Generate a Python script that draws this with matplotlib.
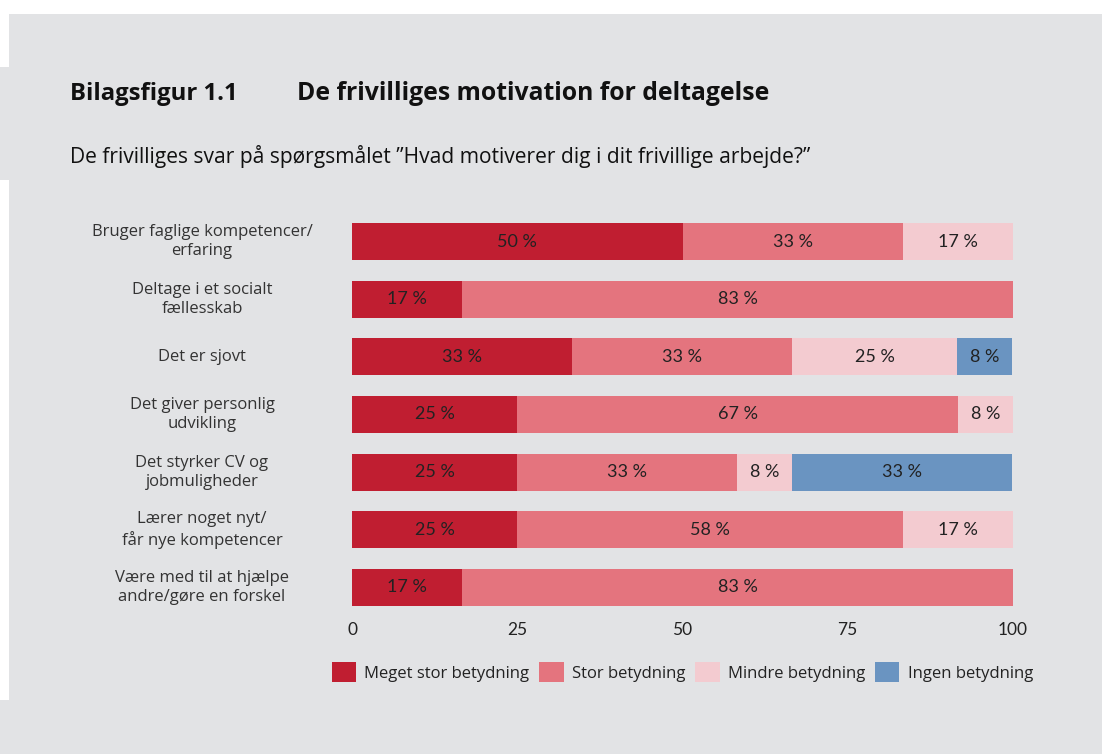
import matplotlib.pyplot as plt
from matplotlib.patches import Rectangle, Patch
from matplotlib.transforms import blended_transform_factory
import numpy as np

# data (andel af svar i procent)
categories = [
    "Bruger faglige kompetencer/\nerfaring",
    "Deltage i et socialt\nfællesskab",
    "Det er sjovt",
    "Det giver personlig\nudvikling",
    "Det styrker CV og\njobmuligheder",
    "Lærer noget nyt/\nfår nye kompetencer",
    "Være med til at hjælpe\nandre/gøre en forskel",
]
series_names = ["Meget stor betydning", "Stor betydning", "Mindre betydning", "Ingen betydning"]
meget_stor = [50.0, 16.7, 33.3, 25.0, 25.0, 25.0, 16.7]
stor = [33.3, 83.3, 33.3, 66.7, 33.3, 58.3, 83.3]
mindre = [16.7, 0.0, 25.0, 8.3, 8.3, 16.7, 0.0]
ingen = [0.0, 0.0, 8.3, 0.0, 33.3, 0.0, 0.0]
x_ticks = [0, 25, 50, 75, 100]

colors = ["#c01e31", "#e4747e", "#f3cbd0", "#6a94c1"]
bg = "#e2e3e5"
txt = "#222222"
narrow = ['Lato', 'DejaVu Sans']

plt.rcParams['font.family'] = ['Open Sans', 'DejaVu Sans']

W, H = 1102, 754
fig = plt.figure(figsize=(W / 100, H / 100), dpi=100, facecolor="white")

# grå baggrund
def px_rect(x0, y0, x1, y1):
    fig.patches.append(Rectangle((x0 / W, 1 - y1 / H), (x1 - x0) / W, (y1 - y0) / H,
                                 transform=fig.transFigure, facecolor=bg, edgecolor="none", zorder=-10))
px_rect(9, 14, W, H)
px_rect(0, 67, 9, 180)
px_rect(0, 700, 9, H)

# akse
left, right = 352, 1013
top, bottom = 212.7, 616.3
ax = fig.add_axes([left / W, 1 - bottom / H, (right - left) / W, (bottom - top) / H])
ax.set_facecolor("none")
ax.set_zorder(5)

y = np.arange(len(categories))
data = [meget_stor, stor, mindre, ingen]
start = np.zeros(len(categories))
for vals, col in zip(data, colors):
    vals = np.array(vals)
    ax.barh(y, vals, left=start, height=0.645, color=col, edgecolor="none")
    for yi, s, v in zip(y, start, vals):
        if v > 0:
            ax.text(s + v / 2, yi, f"{v:.0f} %", ha="center", va="center",
                    fontsize=13, color=txt, family=narrow)
    start += vals

ax.set_xlim(0, 100)
ax.set_ylim(len(categories) - 0.5, -0.5)
ax.set_xticks(x_ticks)
ax.set_xticklabels([str(t) for t in x_ticks], fontsize=12.5, color=txt, family=narrow)
ax.tick_params(axis="x", length=0, pad=4)
ax.set_yticks([])
for s in ax.spines.values():
    s.set_visible(False)

# kategorier, centreret
tr = blended_transform_factory(fig.transFigure, ax.transData)
for yi, c in zip(y, categories):
    fig.text(202 / W, yi, c, transform=tr, ha="center", va="center", multialignment="center",
             fontsize=12, color="#333333", linespacing=1.25)

# titler
fig.text(70 / W, 1 - 100 / H, "Bilagsfigur 1.1", fontsize=17.2, fontweight="bold", color="#111111", va="baseline")
fig.text(297 / W, 1 - 100 / H, "De frivilliges motivation for deltagelse", fontsize=17.8,
         fontweight="bold", color="#111111", va="baseline")
fig.text(70 / W, 1 - 163 / H, "De frivilliges svar på spørgsmålet \u201dHvad motiverer dig i dit frivillige arbejde?\u201d",
         fontsize=15.1, color="#111111", va="baseline")

# legende
handles = [Patch(facecolor=c, edgecolor="none") for c in colors]
fig.legend(handles, series_names, loc="center", bbox_to_anchor=(682.5 / W, 1 - 672 / H),
           ncol=4, frameon=False, fontsize=12, handlelength=1.45, handleheight=1.45,
           handletextpad=0.5, columnspacing=0.6, labelcolor="#222222")

fig.savefig("out.png", dpi=100, facecolor="white")
